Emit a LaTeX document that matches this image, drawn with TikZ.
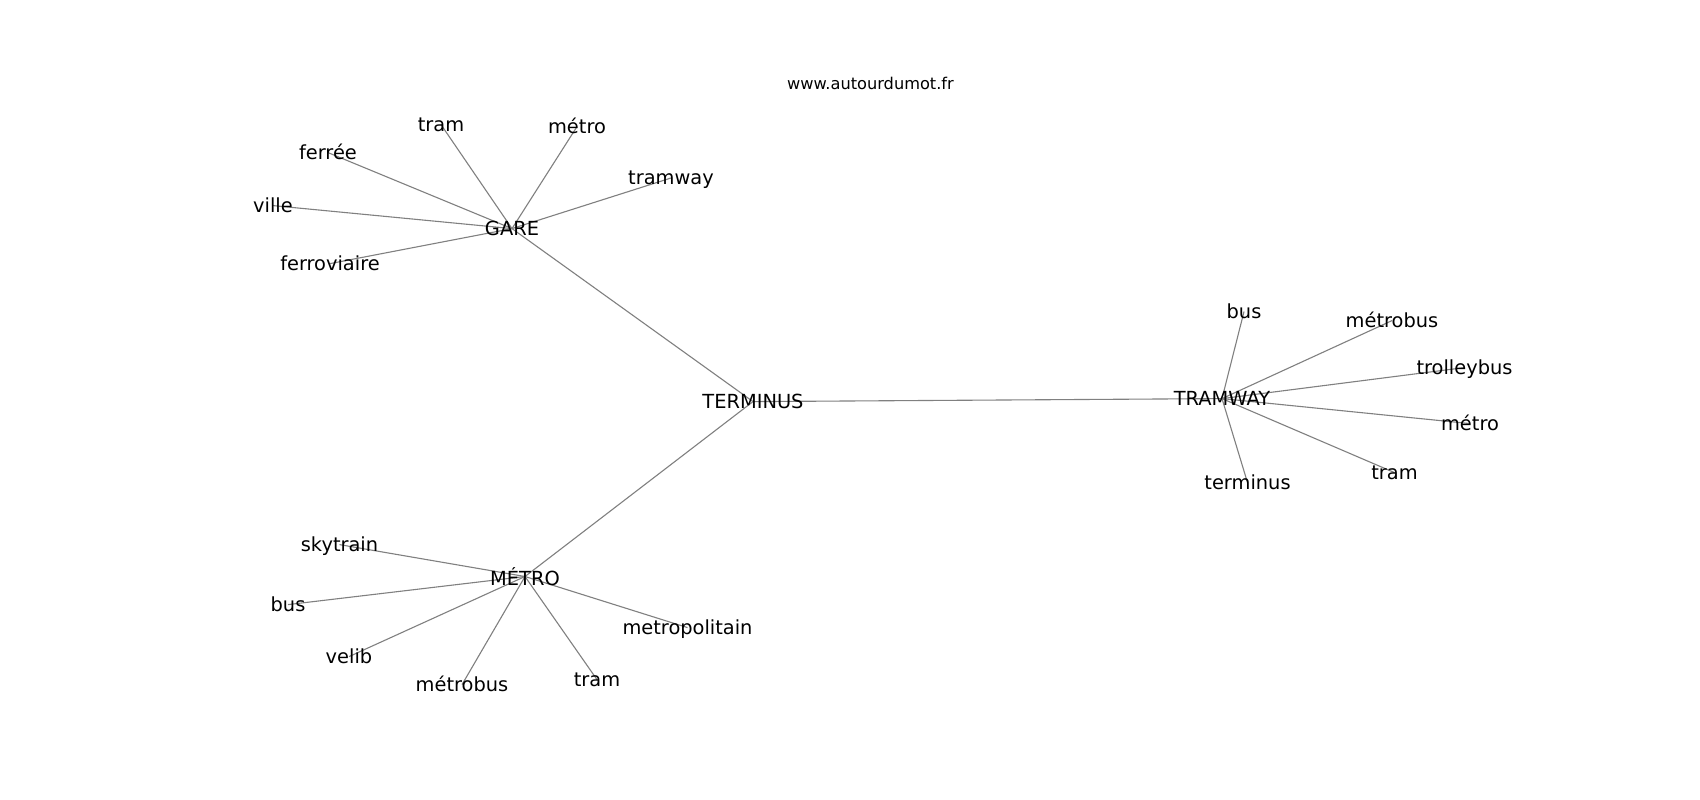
\documentclass[tikz,border=0pt]{standalone}
\usepackage{fontspec}
\setmainfont{DejaVu Sans}
\begin{document}
\begin{tikzpicture}[x=1pt,y=-1pt,
  lbl/.style={font=\fontsize{19.4}{23}\selectfont, inner sep=0pt, text height=14.7pt, text depth=4pt, anchor=center, yshift=-1.5pt},
  edge/.style={draw=black!50, line width=1.1pt},
  ttl/.style={font=\fontsize{16.2}{19}\selectfont, inner sep=0pt, anchor=base}]
\useasboundingbox[fill=white] (0,0) rectangle (1700,800);
\node[ttl] (title) at (870.5,89) {www.autourdumot.fr};
% hubs
\coordinate (cTERM) at (753,401.6);
\coordinate (cGARE) at (512,228.6);
\coordinate (cMETRO) at (525,576.5);
\coordinate (cTRAM) at (1222,398.6);
% GARE leaves
\coordinate (cg1) at (441,124.6);
\coordinate (cg2) at (577,126.6);
\coordinate (cg3) at (671,178);
\coordinate (cg4) at (328,152.6);
\coordinate (cg5) at (273,205.6);
\coordinate (cg6) at (330,263.6);
% METRO leaves
\coordinate (cm1) at (339.5,544.6);
\coordinate (cm2) at (288,604.6);
\coordinate (cm3) at (349,656.6);
\coordinate (cm4) at (462,684.6);
\coordinate (cm5) at (597,679.6);
\coordinate (cm6) at (687.5,627.6);
% TRAMWAY leaves
\coordinate (ct1) at (1244,311.6);
\coordinate (ct2) at (1392,320.6);
\coordinate (ct3) at (1464.5,367.6);
\coordinate (ct4) at (1470,423.6);
\coordinate (ct5) at (1394.5,472.6);
\coordinate (ct6) at (1247.5,482.6);
% edges
\draw[edge] (cTERM) -- (cGARE);
\draw[edge] (cTERM) -- (cMETRO);
\draw[edge] (cTERM) -- (cTRAM);
\foreach \n in {cg1,cg2,cg3,cg4,cg5,cg6} \draw[edge] (cGARE) -- (\n);
\foreach \n in {cm1,cm2,cm3,cm4,cm5,cm6} \draw[edge] (cMETRO) -- (\n);
\foreach \n in {ct1,ct2,ct3,ct4,ct5,ct6} \draw[edge] (cTRAM) -- (\n);
% labels
\node[lbl] (TERM) at (cTERM) {TERMINUS};
\node[lbl] (GARE) at (cGARE) {GARE};
\node[lbl, text height=18.2pt] (METRO) at (cMETRO) {MÉTRO};
\node[lbl] (TRAM) at (cTRAM) {TRAMWAY};
\node[lbl] (g1) at (cg1) {tram};
\node[lbl] (g2) at (cg2) {métro};
\node[lbl] (g3) at (cg3) {tramway};
\node[lbl] (g4) at (cg4) {ferrée};
\node[lbl] (g5) at (cg5) {ville};
\node[lbl] (g6) at (cg6) {ferroviaire};
\node[lbl] (m1) at (cm1) {skytrain};
\node[lbl] (m2) at (cm2) {bus};
\node[lbl] (m3) at (cm3) {velib};
\node[lbl] (m4) at (cm4) {métrobus};
\node[lbl] (m5) at (cm5) {tram};
\node[lbl] (m6) at (cm6) {metropolitain};
\node[lbl] (t1) at (ct1) {bus};
\node[lbl] (t2) at (ct2) {métrobus};
\node[lbl] (t3) at (ct3) {trolleybus};
\node[lbl] (t4) at (ct4) {métro};
\node[lbl] (t5) at (ct5) {tram};
\node[lbl] (t6) at (ct6) {terminus};
\end{tikzpicture}
\end{document}
